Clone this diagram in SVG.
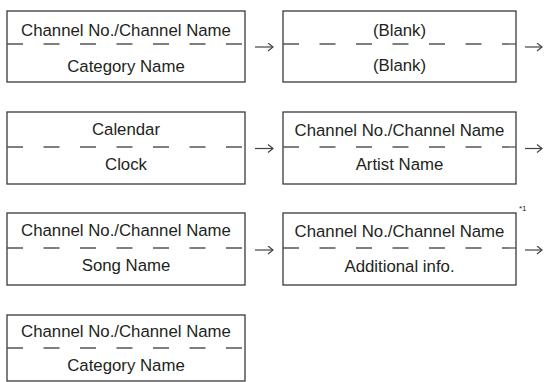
<svg xmlns="http://www.w3.org/2000/svg" width="544" height="382" viewBox="0 0 544 382">
<defs>
<style>
.box{fill:#fff;stroke:#3a3a3a;stroke-width:1.3}
.sep{stroke:#555;stroke-width:1.3;stroke-dasharray:16 20.5;fill:none}
.t{font-family:"Liberation Sans",Arial,sans-serif;font-size:16.8px;fill:#231f20;text-anchor:middle}
.note{font-family:"Liberation Sans",Arial,sans-serif;font-size:8px;fill:#231f20}
.arr{stroke:#444;stroke-width:1.2;fill:none}
</style>
<marker id="ah" markerUnits="userSpaceOnUse" markerWidth="8" markerHeight="10" refX="6" refY="4.5" orient="auto">
<path d="M1,0.5 L6,4.5 L1,8.5" fill="none" stroke="#444" stroke-width="1.2"/>
</marker>
</defs>
<rect width="544" height="382" fill="#fff"/>

<g id="node-r1-a">
<rect class="box" x="7" y="11" width="238" height="71"/>
<line class="sep" x1="7" y1="44" x2="245" y2="44"/>
<text class="t" x="126" y="36">Channel No./Channel Name</text>
<text class="t" x="126" y="72">Category Name</text>
</g>
<g id="node-r1-b">
<rect class="box" x="283" y="11" width="233" height="71"/>
<line class="sep" x1="283" y1="44" x2="516" y2="44"/>
<text class="t" x="399.5" y="36">(Blank)</text>
<text class="t" x="399.5" y="71">(Blank)</text>
</g>

<g id="node-r2-a">
<rect class="box" x="7" y="112" width="238" height="72"/>
<line class="sep" x1="7" y1="147" x2="245" y2="147"/>
<text class="t" x="126" y="135">Calendar</text>
<text class="t" x="126" y="170">Clock</text>
</g>
<g id="node-r2-b">
<rect class="box" x="283" y="112" width="233" height="72"/>
<line class="sep" x1="283" y1="147" x2="516" y2="147"/>
<text class="t" x="399.5" y="136">Channel No./Channel Name</text>
<text class="t" x="399.5" y="170">Artist Name</text>
</g>

<g id="node-r3-a">
<rect class="box" x="7" y="213" width="238" height="72"/>
<line class="sep" x1="7" y1="248" x2="245" y2="248"/>
<text class="t" x="126" y="236">Channel No./Channel Name</text>
<text class="t" x="126" y="271">Song Name</text>
</g>
<g id="node-r3-b">
<rect class="box" x="283" y="213" width="233" height="72"/>
<line class="sep" x1="283" y1="248" x2="516" y2="248"/>
<text class="t" x="399.5" y="237">Channel No./Channel Name</text>
<text class="t" x="399.5" y="272">Additional info.</text>
<text class="note" x="519" y="211">*1</text>
</g>

<g id="node-r4-a">
<rect class="box" x="7" y="315" width="238" height="66"/>
<line class="sep" x1="7" y1="348" x2="245" y2="348"/>
<text class="t" x="126" y="337">Channel No./Channel Name</text>
<text class="t" x="126" y="371">Category Name</text>
</g>

<g id="connectors">
<line class="arr" x1="255" y1="47" x2="273" y2="47" marker-end="url(#ah)"/>
<line class="arr" x1="525" y1="47" x2="542" y2="47" marker-end="url(#ah)"/>
<line class="arr" x1="255" y1="148.5" x2="273" y2="148.5" marker-end="url(#ah)"/>
<line class="arr" x1="525" y1="148.5" x2="542" y2="148.5" marker-end="url(#ah)"/>
<line class="arr" x1="255" y1="250" x2="273" y2="250" marker-end="url(#ah)"/>
<line class="arr" x1="525" y1="250" x2="542" y2="250" marker-end="url(#ah)"/>
</g>
</svg>
